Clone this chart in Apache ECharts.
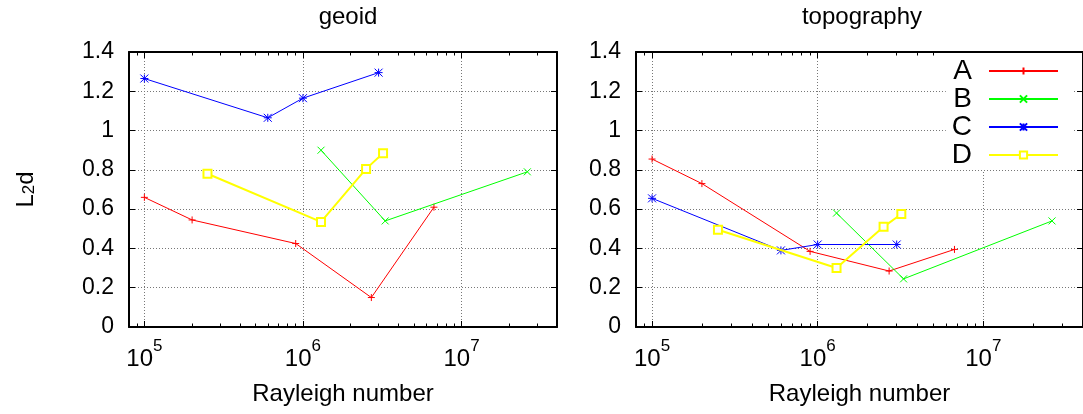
<!DOCTYPE html>
<html>
<head>
<meta charset="utf-8">
<script src="https://cdn.jsdelivr.net/npm/echarts@6/dist/echarts.min.js"></script>
<style>
  html, body { margin: 0; padding: 0; background: #fff; }
  #chart { width: 1083px; height: 414px; }
</style>
</head>
<body>
<div id="chart"></div>
<script>
// Rayleigh numbers of each model family
const rayleighA = [1e5, 2e5, 9e5, 2.7e6, 6.7e6];
const rayleighB = [1.3e6, 3.3e6, 2.6e7];
const rayleighC = [1e5, 6e5, 1e6, 3e6];
const rayleighD = [2.5e5, 1.3e6, 2.5e6, 3.2e6];

// L2 distance, geoid
const geoidA = [0.66, 0.545, 0.425, 0.15, 0.61];
const geoidB = [0.90, 0.54, 0.79];
const geoidC = [1.265, 1.065, 1.165, 1.295];
const geoidD = [0.78, 0.535, 0.805, 0.885];

// L2 distance, topography
const topoA = [0.855, 0.73, 0.385, 0.285, 0.395];
const topoB = [0.58, 0.245, 0.54];
const topoC = [0.655, 0.39, 0.42, 0.42];
const topoD = [0.495, 0.30, 0.51, 0.575];

const panelTitles = ['geoid', 'topography'];
const seriesNames = ['A', 'B', 'C', 'D'];
const xRange = [8e4, 4e7];
const yTicks = { min: 0, max: 1.4, interval: 0.2 };
const majorExponents = [5, 6, 7];

const FONT = '"Liberation Sans", Arial, Helvetica, sans-serif';
const colors = ['#ff0000', '#00ff00', '#0000ff', '#ffff00'];

// minor tick positions in log10 space (2..9 × 10^n)
const logMin = Math.log10(xRange[0]);
const logMax = Math.log10(xRange[1]);
const minorLogs = [];
for (let n = 4; n <= 7; n++) {
  for (let k = 2; k <= 9; k++) {
    const v = Math.log10(k * Math.pow(10, n));
    if (v > logMin && v < logMax) minorLogs.push(v);
  }
}

const symbols = [
  'path://M0,5L10,5M5,0L5,10',
  'path://M0,0L10,10M10,0L0,10',
  'path://M0,0L10,10M10,0L0,10M5,0L5,10M0,5L10,5',
  'emptyRect'
];
const symbolSizes = [7, 7, 8, 8];

const grids = [
  { left: 129, top: 52, width: 428, height: 275 },
  { left: 636, top: 52, width: 453, height: 275 }
];

const frameLine = { show: true, onZero: false, lineStyle: { color: '#000', width: 2 } };
const gridLine = { show: true, lineStyle: { color: '#777', width: 1, type: [1, 2] } };

const xAxes = [];
const yAxes = [];
const seriesList = [];

const panels = [
  { values: [geoidA, geoidB, geoidC, geoidD] },
  { values: [topoA, topoB, topoC, topoD] }
];
const rayleigh = [rayleighA, rayleighB, rayleighC, rayleighD];

panels.forEach((panel, g) => {
  const base = xAxes.length;
  // data axis (log scale)
  xAxes.push({
    type: 'log', logBase: 10, gridIndex: g, min: xRange[0], max: xRange[1],
    show: false
  });
  // bottom: labels, major ticks, grid lines, frame
  xAxes.push({
    type: 'value', gridIndex: g, position: 'bottom', min: logMin, max: logMax,
    axisLine: frameLine,
    axisTick: { show: true, inside: true, length: 6, customValues: majorExponents, lineStyle: { color: '#000', width: 1 } },
    axisLabel: {
      show: true, customValues: majorExponents, margin: 11,
      formatter: v => '{b|10}{e|' + Math.round(v) + '}',
      rich: {
        b: { fontFamily: FONT, fontSize: 24, color: '#000', lineHeight: 42, verticalAlign: 'middle' },
        e: { fontFamily: FONT, fontSize: 17, color: '#000', lineHeight: 17, verticalAlign: 'top' }
      }
    },
    splitLine: gridLine,
    name: 'Rayleigh number', nameLocation: 'middle', nameGap: 55,
    nameTextStyle: { fontFamily: FONT, fontSize: 24, color: '#000' }
  });
  // bottom minor ticks
  xAxes.push({
    type: 'value', gridIndex: g, position: 'bottom', min: logMin, max: logMax,
    axisLine: { show: false, onZero: false },
    axisTick: { show: true, inside: true, length: 3.5, customValues: minorLogs, lineStyle: { color: '#000', width: 1 } },
    axisLabel: { show: false }, splitLine: { show: false }
  });
  // top mirror
  xAxes.push({
    type: 'value', gridIndex: g, position: 'top', min: logMin, max: logMax,
    axisLine: frameLine,
    axisTick: { show: true, inside: true, length: 6, customValues: majorExponents, lineStyle: { color: '#000', width: 1 } },
    axisLabel: { show: false }, splitLine: { show: false }
  });
  xAxes.push({
    type: 'value', gridIndex: g, position: 'top', min: logMin, max: logMax,
    axisLine: { show: false, onZero: false },
    axisTick: { show: true, inside: true, length: 3.5, customValues: minorLogs, lineStyle: { color: '#000', width: 1 } },
    axisLabel: { show: false }, splitLine: { show: false }
  });

  const yBase = yAxes.length;
  yAxes.push({
    type: 'value', gridIndex: g, position: 'left',
    min: yTicks.min, max: yTicks.max, interval: yTicks.interval,
    axisLine: frameLine,
    axisTick: { show: true, inside: true, length: 6, lineStyle: { color: '#000', width: 1 } },
    axisLabel: { show: true, margin: 15, fontFamily: FONT, fontSize: 23, color: '#000' },
    splitLine: gridLine,
    name: g === 0 ? '{n|L}{s|2}{n|d}' : '',
    nameLocation: 'middle', nameRotate: 90, nameGap: 91,
    nameTextStyle: {
      rich: {
        n: { fontFamily: FONT, fontSize: 24, color: '#000', lineHeight: 24, verticalAlign: 'top' },
        s: { fontFamily: FONT, fontSize: 17, color: '#000', lineHeight: 17, verticalAlign: 'bottom' }
      }
    }
  });
  yAxes.push({
    type: 'value', gridIndex: g, position: 'right',
    min: yTicks.min, max: yTicks.max, interval: yTicks.interval,
    axisLine: frameLine,
    axisTick: { show: true, inside: true, length: 6, lineStyle: { color: '#000', width: 1 } },
    axisLabel: { show: false }, splitLine: { show: false }
  });

  panel.values.forEach((vals, i) => {
    seriesList.push({
      type: 'line', name: seriesNames[i],
      xAxisIndex: base, yAxisIndex: yBase,
      data: rayleigh[i].map((r, j) => [r, vals[j]]),
      symbol: symbols[i], symbolSize: symbolSizes[i], showSymbol: true,
      lineStyle: { color: colors[i], width: i === 3 ? 2 : 1 },
      itemStyle: i === 3
        ? { color: colors[i], borderColor: colors[i], borderWidth: 2 }
        : { color: colors[i], borderColor: colors[i], borderWidth: 1 },
      emphasis: { disabled: true },
      animation: false, z: 3 + i
    });
  });
});

const chart = echarts.init(document.getElementById('chart'), null, { renderer: 'canvas' });
chart.setOption({
  backgroundColor: '#fff',
  animation: false,
  title: [
    { text: panelTitles[0], left: 343, top: 0, textAlign: 'center',
      textStyle: { fontFamily: FONT, fontSize: 24, fontWeight: 'normal', color: '#000' } },
    { text: panelTitles[1], left: 857, top: 0, textAlign: 'center',
      textStyle: { fontFamily: FONT, fontSize: 24, fontWeight: 'normal', color: '#000' } }
  ],
  legend: {
    data: seriesNames, orient: 'vertical', align: 'right',
    right: 10, top: 53, padding: [4, 14, 1, 6],
    backgroundColor: '#fff',
    itemWidth: 69, itemHeight: 9, itemGap: 0,
    textStyle: { fontFamily: FONT, fontSize: 28, color: '#000', lineHeight: 26, padding: [0, 12, 0, 0] },
    selectedMode: false
  },
  grid: grids,
  xAxis: xAxes,
  yAxis: yAxes,
  series: seriesList
});
</script>
</body>
</html>
